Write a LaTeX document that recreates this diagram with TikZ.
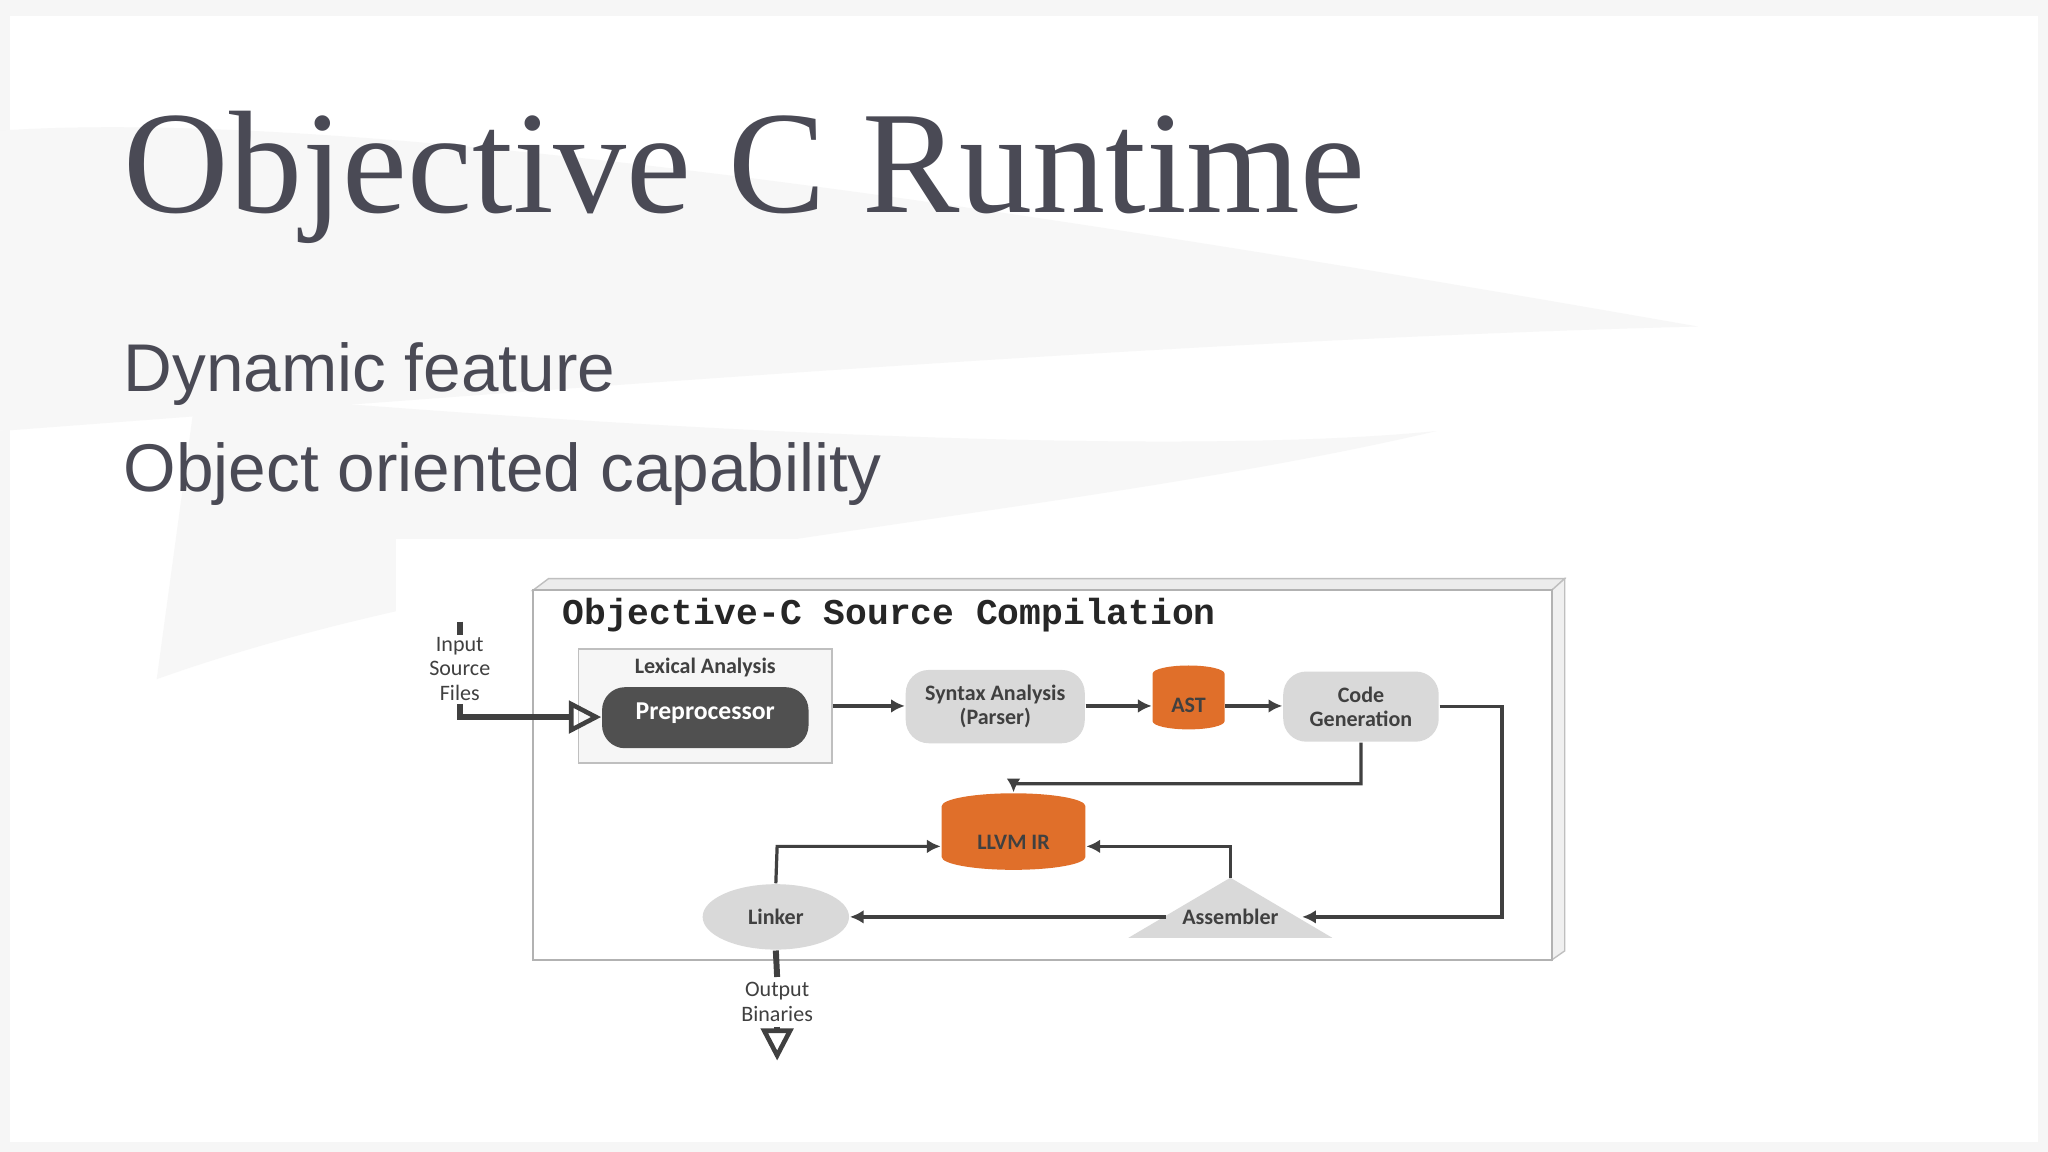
\documentclass[tikz,border=0pt]{standalone}
\usepackage{fontspec}
\setmainfont{Liberation Serif}
\setsansfont{Liberation Sans}
\newfontfamily\dg{Carlito}
\newfontfamily\mono{Liberation Mono}
\usetikzlibrary{shapes.geometric,arrows.meta}
\definecolor{ink}{HTML}{4A4A55}
\definecolor{lg}{HTML}{D9D9D9}
\definecolor{dk}{HTML}{505050}
\definecolor{orng}{HTML}{E06F2A}
\definecolor{ln}{HTML}{404040}
\tikzset{
 box/.style={rounded corners=5pt,fill=lg,minimum width=1.37cm,minimum height=0.5cm,align=center,font=\dg\bfseries\fontsize{4.8}{5.2}\selectfont,text=ln},
 cyl/.style={cylinder,shape border rotate=90,aspect=0.25,fill=orng,draw=none,font=\dg\bfseries\fontsize{4.8}{5.4}\selectfont,text=ln},
 lab/.style={font=\dg\fontsize{4.8}{5.3}\selectfont,text=ln,align=center,inner sep=0pt},
 con/.style={draw=ln,line width=0.7pt,-{Latex[length=3pt,width=3pt]}},
 thick1/.style={draw=ln,line width=1.3pt},
 txt/.style={anchor=base west,inner sep=0pt}
}
\begin{document}
\begin{tikzpicture}[x=0.01cm,y=-0.01cm]
\useasboundingbox (0,0) rectangle (1568,882);
\fill[white!93!gray] (0,0) rectangle (1568,882);
\fill[white] (8,12) rectangle (1560,874);
\fill[gray!6] (0,100) .. controls (300,80) and (900,180) .. (1300,250) .. controls (900,260) and (400,300) .. (0,330) -- cycle;
\fill[gray!6] (150,300) .. controls (500,330) and (900,350) .. (1100,330) .. controls (800,400) and (400,420) .. (120,520) -- cycle;
\fill[white] (303,413) rectangle (1200,830);
\node[txt,font=\fontsize{31.8}{32}\selectfont,text=ink] (title) at (94,163) {Objective C Runtime};
\node[txt,font=\sffamily\fontsize{14.7}{15}\selectfont,text=ink] (b1) at (94,300) {Dynamic feature};
\node[txt,font=\sffamily\fontsize{14.7}{15}\selectfont,text=ink] (b2) at (94,376) {Object oriented capability};
% 3D frame
\fill[gray!15,draw=gray!50,line width=0.3pt] (408,452) -- (420,443) -- (1198,443) -- (1188,452) -- cycle;
\fill[gray!12,draw=gray!50,line width=0.3pt] (1188,452) -- (1198,443) -- (1198,728) -- (1188,735) -- cycle;
\draw[gray!60,line width=0.4pt,fill=white] (408,452) rectangle (1188,735);
\node[txt,font=\mono\bfseries\fontsize{7.9}{8}\selectfont,text=black!85] (ctitle) at (430,478) {Objective-C Source Compilation};
\node[draw=gray!50,fill=gray!7,line width=0.4pt,minimum width=1.94cm,minimum height=0.87cm] (lex) at (540,540.5) {};
\node[lab,font=\dg\bfseries\fontsize{4.8}{5.4}\selectfont] (lext) at (540,511) {Lexical Analysis};
\node[box,fill=dk,text=white,minimum width=1.58cm,minimum height=0.45cm,font=\dg\bfseries\fontsize{5.6}{6}\selectfont] (pre) at (540,549.5) {\raisebox{3pt}{Preprocessor}};
\node[box] (syn) at (762,541) {Syntax Analysis\\(Parser)};
\node[cyl,minimum width=0.55cm,minimum height=0.3cm] (ast) at (910,540) {AST};
\node[box,minimum width=1.19cm] (code) at (1042,541) {Code\\Generation};
\node[cyl,minimum width=1.1cm,minimum height=0.5cm] (llvm) at (776,645) {LLVM IR};
\node[ellipse,fill=lg,minimum width=1.12cm,minimum height=0.48cm,font=\dg\bfseries\fontsize{4.8}{5.4}\selectfont,text=ln] (link) at (594,702) {Linker};
\fill[lg] (942,672) -- (1020,718) -- (864,718) -- cycle;
\node[font=\dg\bfseries\fontsize{4.8}{5.4}\selectfont,text=ln] (asm) at (942,702) {Assembler};
\coordinate (apex) at (942,672);
\draw[con] (lex.east |- pre.west) ++(0,-9) coordinate (pe) -- (pe -| syn.west);
\draw[con] (syn.east |- pe) -- (ast.west |- pe);
\draw[con] (ast.east |- pe) -- (code.west |- pe);
\draw[con] (code.south) -- (1042,600) -- (776,600) -- (llvm.north);
\draw[con] (code.east) -- (1150,541) -- (1150,702) -- (997,702);
\draw[con] (asm.west) -- (link.east);
\draw[con] (link.north) -- (595,648) -- (llvm.west |- 0,648);
\draw[con] (apex) -- (942,648) -- (llvm.east |- 0,648);
% input
\coordinate (i1) at (352,476);
\coordinate (i2) at (352,486);
\draw[thick1] (i1) -- (i2);
\node[lab] (inp) at (352,512) {Input\\Source\\Files};
\coordinate (i3) at (352,539);
\draw[thick1,-{Triangle[open,length=7pt,width=7pt,line width=1pt]}] (i3) -- (352,549) -- (pre.west |- 0,549);
% output
\coordinate (o1) at (595,748);
\draw[thick1] (link.south) -- (o1);
\node[lab] (outp) at (595,767) {Output\\Binaries};
\coordinate (o2) at (595,786);
\draw[thick1,-{Triangle[open,length=7pt,width=7pt,line width=1pt]}] (o2) -- (595,812);
\end{tikzpicture}
\end{document}
